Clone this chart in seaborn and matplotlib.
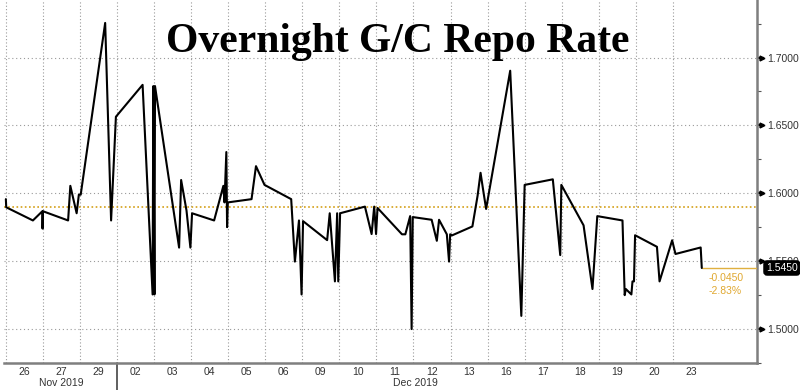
import matplotlib
matplotlib.use("Agg")
import matplotlib.pyplot as plt
import matplotlib.transforms as mtransforms
import numpy as np
import pandas as pd
import seaborn as sns

# ---------------- data ----------------
# position in trading days since the start of 26 Nov 2019 (fractional = intraday)
t = [0.00, 0.01, 0.73, 0.985, 0.99, 1.00, 1.68, 1.74, 1.91, 1.97, 2.02, 2.68, 2.84, 2.97,
     3.69, 3.96, 3.98, 4.01, 4.025, 4.675, 4.73, 4.875, 4.98, 5.025, 5.62, 5.87, 5.90,
     5.95, 5.97, 5.99, 6.63, 6.75, 6.98, 7.70, 7.80, 7.91, 7.98, 8.02, 8.67, 8.74, 8.88,
     8.94, 8.97, 9.02, 9.69, 9.87, 9.94, 9.99, 10.03, 10.69, 10.78, 10.91, 10.95, 10.98,
     11.49, 11.63, 11.69, 11.90, 11.96, 11.99, 12.04, 12.59, 12.73, 12.81, 12.87, 12.96,
     13.61, 13.91, 14.00, 14.76, 14.96, 14.99, 15.59, 15.83, 15.96, 16.64, 16.70, 16.73,
     16.88, 16.91, 16.95, 16.98, 17.57, 17.64, 17.98, 18.07, 18.75, 18.78]
rate = [1.5957, 1.5897, 1.5800, 1.5868, 1.5740, 1.5868, 1.5800, 1.6055, 1.5853, 1.5990,
        1.5990, 1.7255, 1.5800, 1.6564, 1.6799, 1.5255, 1.6790, 1.5255, 1.6790, 1.5600,
        1.6098, 1.5873, 1.5600, 1.5853, 1.5800, 1.6055, 1.5933, 1.6304, 1.5751, 1.5933,
        1.5957, 1.6200, 1.6062, 1.5957, 1.5497, 1.5800, 1.5255, 1.5795, 1.5655, 1.5853,
        1.5351, 1.5853, 1.5351, 1.5853, 1.5902, 1.5700, 1.5902, 1.5700, 1.5892, 1.5698,
        1.5698, 1.5832, 1.5000, 1.5825, 1.5805, 1.5650, 1.5805, 1.5698, 1.5497, 1.5698,
        1.5690, 1.5756, 1.5982, 1.6151, 1.6042, 1.5885, 1.6903, 1.5097, 1.6062, 1.6103,
        1.5545, 1.6062, 1.5764, 1.5295, 1.5832, 1.5800, 1.5250, 1.5295, 1.5255, 1.5351,
        1.5351, 1.5691, 1.5606, 1.5351, 1.5654, 1.5553, 1.5601, 1.5450]

day_labels = ["26", "27", "29", "02", "03", "04", "05", "06", "09", "10",
              "11", "12", "13", "16", "17", "18", "19", "20", "23"]
month_labels = ["Nov 2019", "Dec 2019"]
month_pos = [1.5, 11.05]
month_break = 3.0          # boundary between Nov and Dec trading days
y_ticks = [1.50, 1.55, 1.60, 1.65, 1.70]
ref_level = 1.59           # reference (dotted orange) level
last_value = 1.545
change_abs = "-0.0450"
change_pct = "-2.83%"
title = "Overnight G/C Repo Rate"

# ---------------- figure ----------------
sns.set_theme(style="white")
plt.rcParams["font.family"] = ["Liberation Sans", "DejaVu Sans"]

fig = plt.figure(figsize=(8.0, 3.9), dpi=100)
ax = fig.add_axes([4 / 800, 27 / 390, 753 / 800, 363 / 390])

df = pd.DataFrame({"t": t, "rate": rate})
sns.lineplot(data=df, x="t", y="rate", ax=ax, color="black", linewidth=1.5,
             sort=False, estimator=None, zorder=5)

x_min, x_max = -0.05, 20.27
ax.set_xlim(x_min, x_max)
ax.set_ylim(1.4784, 1.7424)

# day bands: boundaries as minor ticks (gridlines), centers as labels
n_days = len(day_labels)
ax.set_xticks(np.arange(n_days) + 0.5)
ax.set_xticklabels(day_labels, fontsize=7.5, color="#333333")
ax.set_xticks(np.arange(0, n_days), minor=True)
ax.tick_params(axis="x", which="both", length=0, pad=3)
ax.grid(which="minor", axis="x", color="#9a9a9a", linestyle=(0, (1, 2)), linewidth=0.8)

# y axis on the right
ax.yaxis.tick_right()
ax.set_yticks(y_ticks)
ax.set_yticklabels([f"{v:.4f}" for v in y_ticks], fontsize=7.5, color="#333333")
minor_y = [v + 0.025 for v in y_ticks] + [y_ticks[0] - 0.025]
ax.set_yticks(minor_y, minor=True)
ax.tick_params(axis="y", which="major", length=5, width=1.6, color="black", pad=2,
               right=True, left=False)
ax.tick_params(axis="y", which="minor", length=3, width=0.8, color="#555555",
               right=True, left=False)
ax.grid(which="major", axis="y", color="#9a9a9a", linestyle=(0, (1, 2.5)), linewidth=0.8)

ax.set_xlabel("")
ax.set_ylabel("")
for s in ["left", "top"]:
    ax.spines[s].set_visible(False)
for s in ["right", "bottom"]:
    ax.spines[s].set_color("#7f7f7f")
    ax.spines[s].set_linewidth(1.8)

# arrowheads on major ticks
trans_r = mtransforms.blended_transform_factory(ax.transAxes, ax.transData)
ax.plot([1.006] * len(y_ticks), y_ticks, linestyle="none", marker=">", markersize=3.5,
        color="black", transform=trans_r, clip_on=False, zorder=6)

# reference level and last value line
ax.axhline(ref_level, color="#d4a017", linestyle=(0, (1, 1.5)), linewidth=1.2, zorder=4)
ax.plot([t[-1], x_max], [last_value, last_value], color="#e0b040", linewidth=1.0, zorder=4)
ax.text(18.95, last_value - 0.004, change_abs, fontsize=7.5, color="#e0a830",
        va="top", ha="left")
ax.text(18.95, last_value - 0.013, change_pct, fontsize=7.5, color="#e0a830",
        va="top", ha="left")

# last value box
ax.text(1.012, last_value, f"{last_value:.4f}", transform=trans_r, fontsize=7.5,
        color="white", va="center", ha="left", zorder=10,
        bbox=dict(boxstyle="round,pad=0.2,rounding_size=0.3", fc="black", ec="black"))

# month labels and separator
trans_b = mtransforms.blended_transform_factory(ax.transData, ax.transAxes)
for lab, pos in zip(month_labels, month_pos):
    ax.text(pos, -0.041, lab, transform=trans_b, fontsize=7.5, color="#333333",
            ha="center", va="top")
ax.plot([month_break, month_break], [0, -0.075], transform=trans_b, color="#444444",
        linewidth=1.2, clip_on=False)

# title
fig.text(0.4975, 0.893, title, fontsize=30, fontweight="bold",
         family=["Liberation Serif", "DejaVu Serif"], ha="center", va="center",
         color="black", zorder=20)

fig.savefig("out.png", dpi=100, facecolor="white")
